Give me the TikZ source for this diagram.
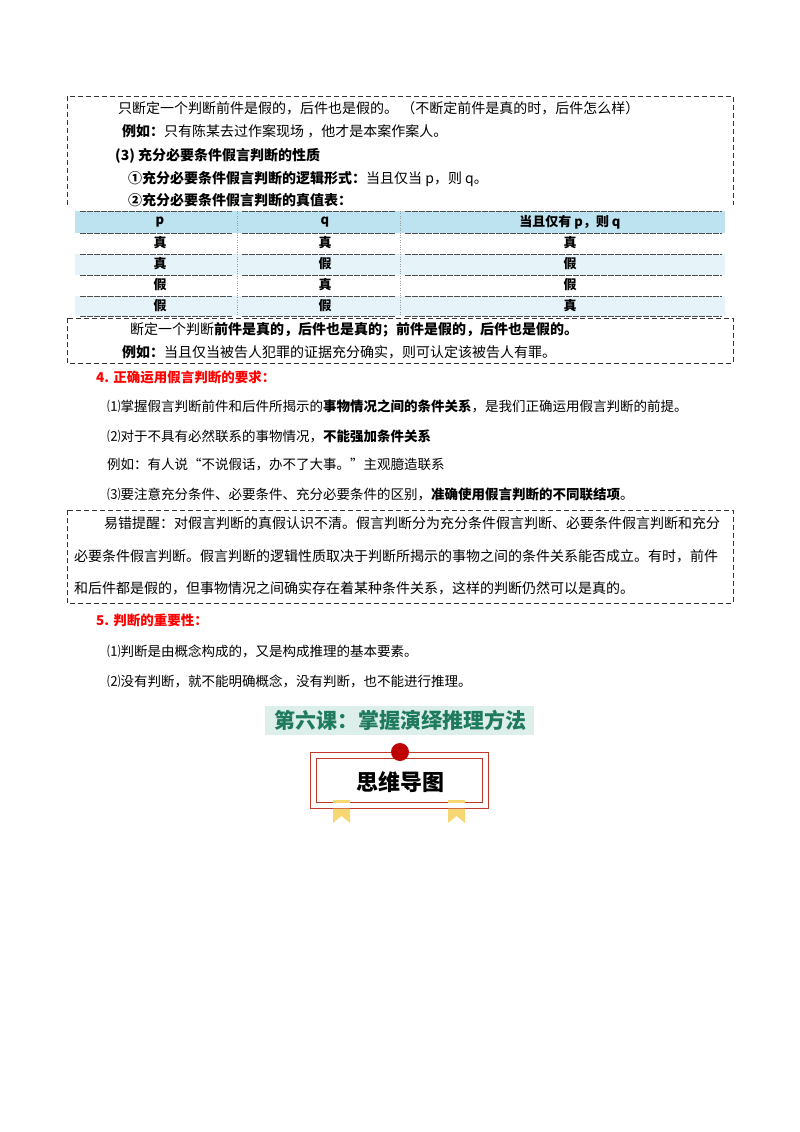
\documentclass[tikz,border=0pt]{standalone}
\usepackage{fontspec}
\setmainfont{Noto Sans CJK SC}
\definecolor{hdr}{HTML}{BDE3F1}
\definecolor{rowb}{HTML}{E6F4FA}
\definecolor{tgreen}{HTML}{1F7A5E}
\definecolor{tband}{HTML}{DCEFEA}
\definecolor{lred}{HTML}{C0392B}
\definecolor{ribbon}{HTML}{F7D774}
\tikzset{
 dbox/.style={draw=black!80,dashed,line width=0.8pt,dash pattern=on 5pt off 3pt},
 txt/.style={anchor=west,inner sep=0pt,font=\fontsize{14}{16}\selectfont},
 ptxt/.style={anchor=west,inner sep=0pt,font=\fontsize{13.5}{15}\selectfont},
 head/.style={anchor=west,inner sep=0pt,text=red,font=\fontsize{13.5}{15}\selectfont\bfseries},
 cell/.style={inner sep=0pt,font=\fontsize{13}{14}\selectfont\bfseries},
 sep/.style={draw=black!70,line width=0.9pt,dash pattern=on 6pt off 1pt}
}
\begin{document}
\begin{tikzpicture}[x=1pt,y=-1pt]
\useasboundingbox (0,0) rectangle (800,1132);
% box 1
\draw[dbox] (67,205) -- (67,96) -- (733,96) -- (733,205);
\node[txt] (l1) at (118,108) {只断定一个判断前件是假的，后件也是假的。\ （不断定前件是真的时，后件怎么样）};
\node[txt] (l2) at (122,131) {\textbf{例如：}只有陈某去过作案现场\ ，他才是本案作案人。};
\node[txt] (l3) at (115,156) {\textbf{(3) 充分必要条件假言判断的性质}};
\node[txt] (l4) at (128,179) {\textbf{①充分必要条件假言判断的逻辑形式：}当且仅当 p，则 q。};
\node[txt] (l5) at (128,200) {\textbf{②充分必要条件假言判断的真值表：}};
% table
\fill[hdr] (75,211) rectangle (725,233);
\fill[rowb] (75,254) rectangle (725,275);
\fill[rowb] (75,296) rectangle (725,316);
\draw[black!40,dotted] (237,211) -- (237,316) (400,211) -- (400,316);
\foreach \y in {211,233,254,275,296,316}{
 \draw[sep] (80,\y) -- (232,\y); \draw[sep] (242,\y) -- (395,\y); \draw[sep] (405,\y) -- (722,\y);}
\node[cell] (h1) at (160,222) {p};
\node[cell] (h2) at (325,222) {q};
\node[cell] (h3) at (570,222) {当且仅有 p，则 q};
\node[cell] (a1) at (160,243) {真}; \node[cell] (a2) at (325,243) {真}; \node[cell] (a3) at (570,243) {真};
\node[cell] (b1) at (160,264) {真}; \node[cell] (b2) at (325,264) {假}; \node[cell] (b3) at (570,264) {假};
\node[cell] (c1) at (160,285) {假}; \node[cell] (c2) at (325,285) {真}; \node[cell] (c3) at (570,285) {假};
\node[cell] (d1) at (160,306) {假}; \node[cell] (d2) at (325,306) {假}; \node[cell] (d3) at (570,306) {真};
% box 2
\draw[dbox] (67,318) rectangle (733,363);
\node[txt] (m1) at (130,330) {断定一个判断\textbf{前件是真的，后件也是真的；前件是假的，后件也是假的。}};
\node[txt] (m2) at (122,352) {\textbf{例如：}当且仅当被告人犯罪的证据充分确实，则可认定该被告人有罪。};
% section 4
\node[head] (s4) at (96,377) {4. 正确运用假言判断的要求：};
\node[ptxt] (p1) at (107,406) {⑴掌握假言判断前件和后件所揭示的\textbf{事物情况之间的条件关系}，是我们正确运用假言判断的前提。};
\node[ptxt] (p2) at (107,436) {⑵对于不具有必然联系的事物情况，\textbf{不能强加条件关系}};
\node[ptxt] (p3) at (107,464) {例如：有人说“不说假话，办不了大事。”主观臆造联系};
\node[ptxt] (p4) at (107,494) {⑶要注意充分条件、必要条件、充分必要条件的区别，\textbf{准确使用假言判断的不同联结项}。};
% box 3
\draw[dbox] (67,510) rectangle (733,603);
\node[txt] (e1) at (104,523) {易错提醒：对假言判断的真假认识不清。假言判断分为充分条件假言判断、必要条件假言判断和充分};
\node[txt] (e2) at (74,556) {必要条件假言判断。假言判断的逻辑性质取决于判断所揭示的事物之间的条件关系能否成立。有时，前件};
\node[txt] (e3) at (74,588) {和后件都是假的，但事物情况之间确实存在着某种条件关系，这样的判断仍然可以是真的。};
% section 5
\node[head] (s5) at (96,620) {5. 判断的重要性：};
\node[ptxt] (q1) at (107,651) {⑴判断是由概念构成的，又是构成推理的基本要素。};
\node[ptxt] (q2) at (107,681) {⑵没有判断，就不能明确概念，没有判断，也不能进行推理。};
% title
\fill[tband] (265,706) rectangle (534,735);
\node[inner sep=0pt,text=tgreen,font=\fontsize{21}{23}\selectfont\bfseries] (title) at (400,720) {第六课：掌握演绎推理方法};
% logo
\draw[lred,line width=1pt] (310,752) rectangle (488,808);
\draw[lred,line width=0.8pt] (316,758) rectangle (482,802);
\fill[white] (333,803) rectangle (350,807.2);
\fill[white] (448,803) rectangle (465,807.2);
\fill[ribbon] (333,808.5) -- (350,808.5) -- (350,823) -- (341.5,816) -- (333,823) -- cycle;
\fill[ribbon] (448,808.5) -- (465,808.5) -- (465,823) -- (456.5,816) -- (448,823) -- cycle;
\fill[ribbon] (333,800) rectangle (350,802.5);
\fill[ribbon] (448,800) rectangle (465,802.5);
\fill[red!75!black] (400,752) circle (9);
\node[inner sep=0pt,font=\fontsize{22}{24}\selectfont\bfseries] (logo) at (400,782) {思维导图};
\end{tikzpicture}
\end{document}
